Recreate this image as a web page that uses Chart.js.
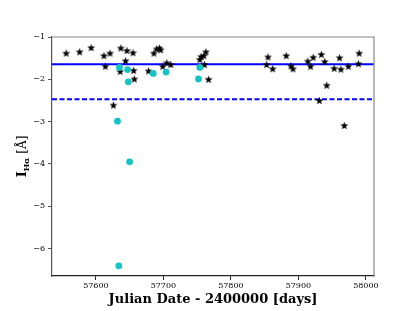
<!DOCTYPE html>
<html>
<head>
<meta charset="utf-8">
<script src="https://cdn.jsdelivr.net/npm/chart.js"></script>
<style>
  body { margin: 0; background: #fff; }
  canvas { display: block; }
</style>
</head>
<body>
<canvas id="chart" width="415" height="311"></canvas>
<script>
// star measurements (days, I_Halpha)
var starDays = [57556,57576,57593,57612,57614,57621,57626,57636,57637,57644,57646,57655,57656,57657,
  57678,57686,57690,57694,57696,57699,57705,57711,57754,57756,57760,57761,57763,57767,
  57853,57855,57862,57882,57889,57892,57914,57918,57922,57931,57934,57939,57942,57953,
  57961,57963,57968,57974,57989,57990];
var starVals = [-1.38,-1.35,-1.25,-1.44,-1.69,-1.38,-2.61,-1.81,-1.26,-1.56,-1.32,-1.37,-1.79,-1.99,
  -1.80,-1.38,-1.28,-1.26,-1.30,-1.69,-1.61,-1.65,-1.53,-1.46,-1.44,-1.65,-1.35,-2.00,
  -1.65,-1.47,-1.75,-1.44,-1.68,-1.75,-1.57,-1.69,-1.48,-2.50,-1.41,-1.58,-2.14,-1.74,
  -1.49,-1.76,-3.09,-1.69,-1.63,-1.38];

// cyan points
var cyanDays = [57632,57634,57635,57647,57648,57650,57685,57704,57752,57754];
var cyanVals = [-2.99,-6.41,-1.72,-1.77,-2.06,-3.95,-1.86,-1.83,-1.99,-1.72];

// horizontal reference levels
var solidLevel = -1.645;
var dashedLevel = -2.47;

var xRange = [57535, 58012];
var yRange = [-6.65, -1];
var xTicks = [57600, 57700, 57800, 57900, 58000];
var yTicks = [-6, -5, -4, -3, -2, -1];

function toPts(xs, ys) {
  return xs.map(function (x, i) { return { x: x, y: ys[i] }; });
}

function makeStar(r) {
  var c = document.createElement('canvas');
  var s = Math.ceil(r * 2 + 2);
  c.width = c.height = s;
  var g = c.getContext('2d');
  g.beginPath();
  for (var i = 0; i < 10; i++) {
    var a = -Math.PI / 2 + i * Math.PI / 5;
    var rr = i % 2 ? r * 0.42 : r;
    g.lineTo(s / 2 + rr * Math.cos(a), s / 2 + rr * Math.sin(a) + r * 0.1);
  }
  g.closePath();
  g.fillStyle = '#000';
  g.fill();
  return c;
}
var starImg = makeStar(4.2);

var serif = "'DejaVu Serif', 'Liberation Serif', serif";

// axis labels drawn by hand so the subscript works
var labels = {
  id: 'labels',
  afterDraw: function (chart) {
    var ctx = chart.ctx, a = chart.chartArea;
    ctx.save();
    ctx.fillStyle = '#000';
    ctx.textBaseline = 'middle';
    ctx.textAlign = 'center';
    ctx.font = 'bold 13px ' + serif;
    ctx.fillText('Julian Date - 2400000 [days]', (a.left + a.right) / 2, 300);

    ctx.translate(21, (a.top + a.bottom) / 2);
    ctx.rotate(-Math.PI / 2);
    ctx.textAlign = 'left';
    ctx.textBaseline = 'alphabetic';
    var f1 = 'bold 13px ' + serif, f2 = 'bold 8px ' + serif, f3 = '12px ' + serif;
    ctx.font = f1; var w1 = ctx.measureText('I').width;
    ctx.font = f2; var w2 = ctx.measureText('Hα').width;
    ctx.font = f3; var w3 = ctx.measureText(' [Å]').width;
    var x = -(w1 + w2 + w3) / 2;
    ctx.font = f1; ctx.fillText('I', x, 5); x += w1;
    ctx.font = f2; ctx.fillText('Hα', x, 8); x += w2;
    ctx.font = f3; ctx.fillText(' [Å]', x, 5);
    ctx.restore();
  }
};

new Chart(document.getElementById('chart'), {
  type: 'scatter',
  data: {
    datasets: [
      {
        label: 'solid',
        type: 'line',
        data: [{ x: xRange[0], y: solidLevel }, { x: xRange[1], y: solidLevel }],
        borderColor: '#0000ff',
        borderWidth: 1.9,
        pointRadius: 0,
        order: 3
      },
      {
        label: 'dashed',
        type: 'line',
        data: [{ x: xRange[0], y: dashedLevel }, { x: xRange[1], y: dashedLevel }],
        borderColor: '#0000ff',
        borderWidth: 1.9,
        borderDash: [5, 2.5],
        pointRadius: 0,
        order: 3
      },
      {
        label: 'stars',
        data: toPts(starDays, starVals),
        pointStyle: starImg,
        order: 2
      },
      {
        label: 'cyan',
        data: toPts(cyanDays, cyanVals),
        pointStyle: 'circle',
        pointRadius: 3.4,
        backgroundColor: '#14c4c4',
        borderWidth: 0,
        order: 1
      }
    ]
  },
  options: {
    responsive: false,
    animation: false,
    layout: { padding: { top: 37, right: 41, left: 0, bottom: 0 } },
    plugins: { legend: { display: false }, tooltip: { enabled: false } },
    scales: {
      x: {
        type: 'linear',
        min: xRange[0],
        max: xRange[1],
        afterBuildTicks: function (s) { s.ticks = xTicks.map(function (v) { return { value: v }; }); },
        afterFit: function (s) { s.height = 35; },
        border: { color: '#222', width: 1.2 },
        grid: { drawOnChartArea: false, tickLength: 4, color: '#222' },
        ticks: {
          color: '#000',
          padding: 1,
          maxRotation: 0,
          font: { family: serif, size: 8 },
          callback: function (v) { return String(v); }
        }
      },
      y: {
        min: yRange[0],
        max: yRange[1],
        afterBuildTicks: function (s) { s.ticks = yTicks.map(function (v) { return { value: v }; }); },
        afterFit: function (s) { s.width = 52; },
        border: { color: '#555', width: 1.2 },
        grid: { drawOnChartArea: false, tickLength: 4, color: '#555' },
        ticks: {
          color: '#000',
          padding: 3,
          font: { family: serif, size: 8 },
          callback: function (v) { return '\u2212' + Math.abs(v); }
        }
      }
    }
  },
  plugins: [labels, {
    id: 'frame',
    afterDraw: function (chart) {
      var ctx = chart.ctx, a = chart.chartArea;
      ctx.save();
      ctx.strokeStyle = '#888';
      ctx.lineWidth = 1.2;
      ctx.beginPath();
      ctx.moveTo(a.left, a.top);
      ctx.lineTo(a.right, a.top);
      ctx.lineTo(a.right, a.bottom);
      ctx.stroke();
      ctx.restore();
    }
  }]
});
</script>
</body>
</html>
